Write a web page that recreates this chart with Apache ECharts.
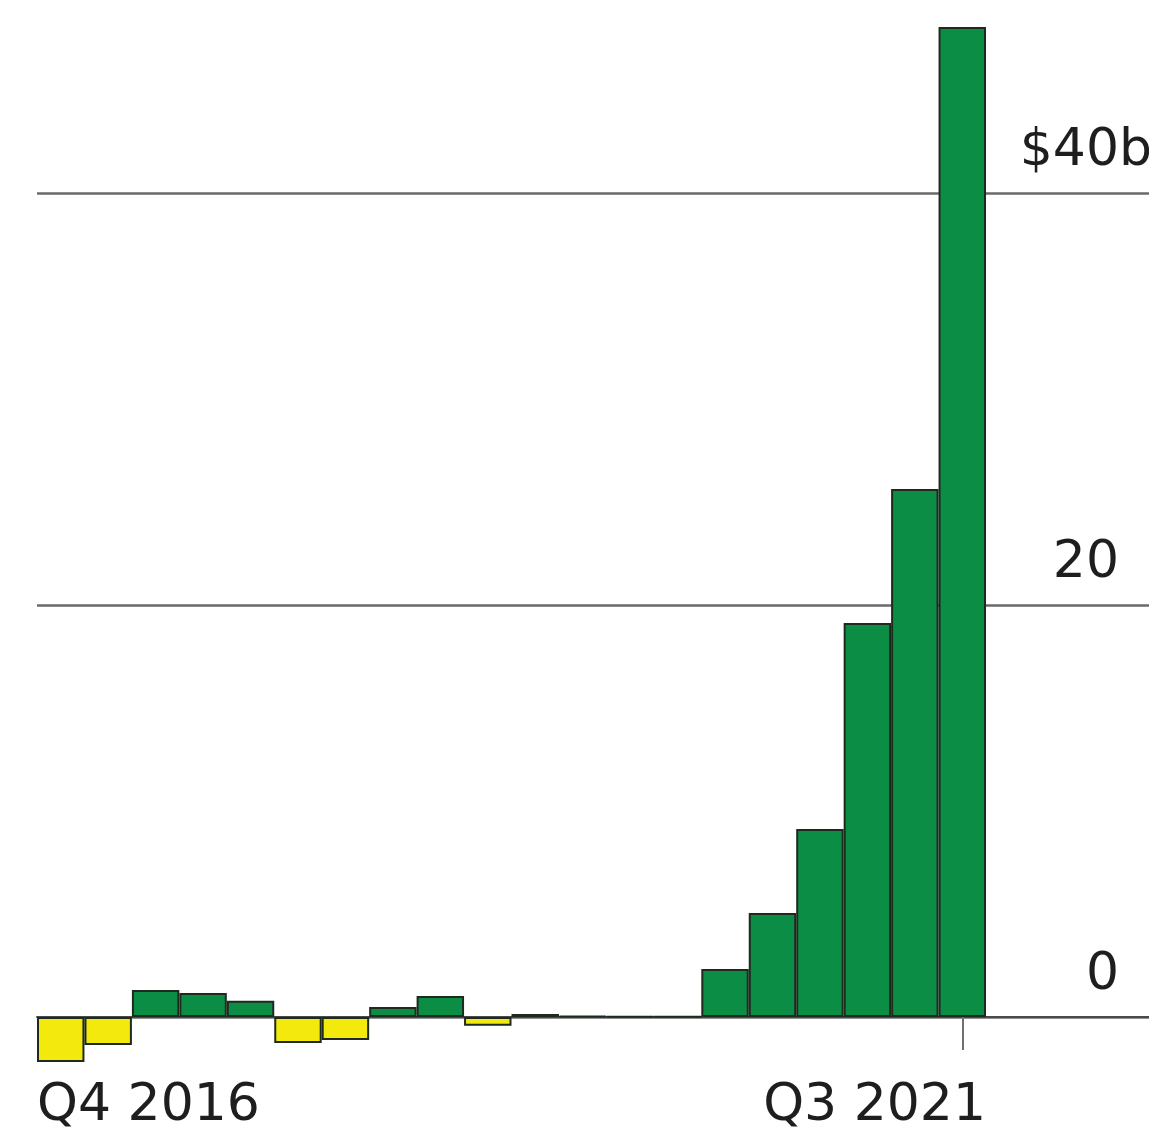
<!DOCTYPE html>
<html>
<head>
<meta charset="utf-8">
<title>Quarterly flows</title>
<script src="https://cdn.jsdelivr.net/npm/echarts@6/dist/echarts.min.js"></script>
<style>
  html, body { margin: 0; padding: 0; background: #ffffff; }
  #chart { width: 1149px; height: 1136px; }
</style>
</head>
<body>
<div id="chart"></div>
<script>
// Quarters, Q4 2016 through Q3 2021
const quarters = [
  'Q4 2016',
  'Q1 2017', 'Q2 2017', 'Q3 2017', 'Q4 2017',
  'Q1 2018', 'Q2 2018', 'Q3 2018', 'Q4 2018',
  'Q1 2019', 'Q2 2019', 'Q3 2019', 'Q4 2019',
  'Q1 2020', 'Q2 2020', 'Q3 2020', 'Q4 2020',
  'Q1 2021', 'Q2 2021', 'Q3 2021'
];

// Net flows per quarter, $ billions
const flows = [
  -2.18,
  -1.36, 1.31, 1.17, 0.79,
  -1.26, -1.12, 0.49, 1.02,
  -0.42, 0.15, 0.05, 0.03,
  0.02, 2.33, 5.05, 9.13,
  19.13, 25.63, 48.06
];

// Value axis ticks and their labels
const yTicks = [0, 20, 40];
const yTickLabels = ['0', '20', '$40b'];

// Quarters labelled under the axis
const labelledQuarters = ['Q4 2016', 'Q3 2021'];

const GREEN = '#0b8d46';
const YELLOW = '#f4e90c';
const EDGE = '#1e2a1e';
const GRID = '#6a6a6a';
const FONT = 'DejaVu Sans';
const FS = 52;

const idxFirst = quarters.indexOf(labelledQuarters[0]);
const idxLast = quarters.indexOf(labelledQuarters[1]);

// The grid runs from -20 to 60 so that ticks fall on multiples of 20;
// its lower edge lies below the page, so the quarter labels are pulled
// back up under the zero line with a negative margin.
const GRID_BOTTOM = -293;
const X_LABEL_MARGIN = -349;

const chart = echarts.init(document.getElementById('chart'), null, { renderer: 'canvas' });

const xCommon = {
  type: 'value',
  gridIndex: 0,
  position: 'bottom',
  min: -0.5,
  max: 22.935,
  splitLine: { show: false },
  axisLine: { show: true, onZero: true, lineStyle: { color: '#4a4a4a', width: 2 } }
};

chart.setOption({
  animation: false,
  backgroundColor: '#ffffff',
  grid: {
    left: 37, right: 0, top: -219, bottom: GRID_BOTTOM,
    containLabel: false,
    outerBoundsMode: 'none'
  },
  xAxis: [
    Object.assign({}, xCommon, {
      axisTick: {
        show: true, inside: false, length: 33,
        customValues: [idxLast],
        lineStyle: { color: '#707070', width: 2 }
      },
      axisLabel: {
        show: true,
        customValues: [idxFirst - 0.5],
        align: 'left',
        verticalAlign: 'top',
        margin: X_LABEL_MARGIN,
        fontFamily: FONT, fontSize: FS, color: '#1e1e1e',
        formatter: () => labelledQuarters[0]
      }
    }),
    Object.assign({}, xCommon, {
      axisTick: { show: false },
      axisLabel: {
        show: true,
        customValues: [idxLast + 0.5],
        align: 'right',
        verticalAlign: 'top',
        margin: X_LABEL_MARGIN,
        fontFamily: FONT, fontSize: FS, color: '#1e1e1e',
        formatter: () => labelledQuarters[1]
      }
    })
  ],
  yAxis: {
    type: 'value',
    position: 'right',
    min: -20,
    max: 60,
    interval: 20,
    axisLine: { show: false },
    axisTick: { show: false },
    splitLine: { show: true, lineStyle: { color: GRID, width: 2.5 } },
    axisLabel: {
      show: true,
      inside: true,
      margin: 30,
      align: 'right',
      verticalAlign: 'middle',
      padding: [0, 0, 84, 0],
      fontFamily: FONT, fontSize: FS, color: '#1e1e1e',
      formatter: (v) => {
        const i = yTicks.indexOf(v);
        if (i < 0) return '';
        const txt = yTickLabels[i];
        // unit suffix hangs past the right edge of the number column
        if (/b$/.test(txt)) {
          return '{num|' + txt.slice(0, -1) + '}{hang|b}';
        }
        return '{num|' + txt + '}';
      },
      rich: {
        num: { align: 'left', fontFamily: FONT, fontSize: FS, color: '#1e1e1e' },
        hang: { align: 'left', width: 0, fontFamily: FONT, fontSize: FS, color: '#1e1e1e' }
      }
    }
  },
  series: [{
    type: 'bar',
    xAxisIndex: 0,
    yAxisIndex: 0,
    barWidth: '100%',
    barGap: '0%',
    clip: false,
    data: flows.map((v, i) => [i, v]),
    itemStyle: {
      color: (p) => (p.value[1] < 0 ? YELLOW : GREEN),
      borderColor: EDGE,
      borderWidth: 2
    }
  }]
});
</script>
</body>
</html>
